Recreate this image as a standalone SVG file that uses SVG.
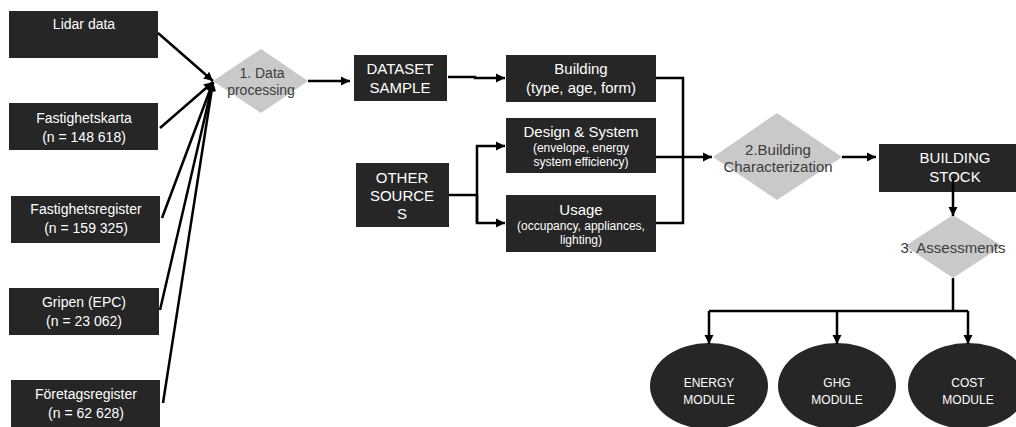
<svg xmlns="http://www.w3.org/2000/svg" width="1016" height="427" viewBox="0 0 1016 427">
  <style>
    .box { fill: #262626; }
    .dia { fill: #c9c9c9; }
    .mod { fill: #262626; }
    .t { font-family: "Liberation Sans", Arial, sans-serif; fill: #ffffff; text-anchor: middle; }
    .dt { font-family: "Liberation Sans", Arial, sans-serif; fill: #3c3c3c; text-anchor: middle; }
    .s15 { font-size: 15px; }
    .s14 { font-size: 14px; }
    .s12 { font-size: 12px; }
    .edge { fill: none; stroke: #000000; stroke-width: 2.5; }
    .arr { marker-end: url(#head); }
  </style>
  <defs>
    <marker id="head" markerWidth="10" markerHeight="10" refX="9" refY="5" orient="auto" markerUnits="userSpaceOnUse">
      <path d="M0,0.5 L9,5 L0,9.5 Z" fill="#000000"/>
    </marker>
  </defs>

  <rect width="1016" height="427" fill="#ffffff"/>

  <!-- data sources -->
  <g id="lidar">
    <rect class="box" x="9" y="11" width="149" height="47"/>
    <text class="t s14" x="84" y="29">Lidar data</text>
  </g>
  <g id="fastighetskarta">
    <rect class="box" x="9" y="103" width="149" height="47"/>
    <text class="t s14" x="84" y="123">Fastighetskarta</text>
    <text class="t s14" x="84" y="142">(n = 148 618)</text>
  </g>
  <g id="fastighetsregister">
    <rect class="box" x="11" y="196" width="149" height="47"/>
    <text class="t s14" x="86" y="214">Fastighetsregister</text>
    <text class="t s14" x="86" y="233">(n = 159 325)</text>
  </g>
  <g id="gripen">
    <rect class="box" x="9" y="288" width="150" height="47"/>
    <text class="t s14" x="84" y="307">Gripen (EPC)</text>
    <text class="t s14" x="84" y="326">(n = 23 062)</text>
  </g>
  <g id="foretagsregister">
    <rect class="box" x="11" y="380" width="149" height="50"/>
    <text class="t s14" x="86" y="399">Företagsregister</text>
    <text class="t s14" x="86" y="418">(n = 62 628)</text>
  </g>

  <!-- step 1 -->
  <g id="data-processing">
    <polygon class="dia" points="261,49 308,81 261,113 213,81"/>
    <text class="dt s14" x="262" y="78">1. Data</text>
    <text class="dt s14" x="261" y="95">processing</text>
  </g>

  <g id="dataset-sample">
    <rect class="box" x="354" y="55" width="93" height="46"/>
    <text class="t s15" x="400" y="74">DATASET</text>
    <text class="t s15" x="400" y="93">SAMPLE</text>
  </g>
  <g id="other-sources">
    <rect class="box" x="356" y="163" width="93" height="64"/>
    <text class="t s15" x="402" y="183">OTHER</text>
    <text class="t s15" x="402" y="201">SOURCE</text>
    <text class="t s15" x="402" y="219">S</text>
  </g>

  <g id="building">
    <rect class="box" x="506" y="55" width="150" height="47"/>
    <text class="t s15" x="581" y="74">Building</text>
    <text class="t s15" x="581" y="93">(type, age, form)</text>
  </g>
  <g id="design-system">
    <rect class="box" x="506" y="118" width="150" height="55"/>
    <text class="t s15" x="581" y="137">Design &amp; System</text>
    <text class="t s12" x="581" y="152">(envelope, energy</text>
    <text class="t s12" x="581" y="166">system efficiency)</text>
  </g>
  <g id="usage">
    <rect class="box" x="506" y="195" width="150" height="57"/>
    <text class="t s15" x="581" y="215">Usage</text>
    <text class="t s12" x="581" y="230">(occupancy, appliances,</text>
    <text class="t s12" x="581" y="244">lighting)</text>
  </g>

  <!-- step 2 -->
  <g id="building-characterization">
    <polygon class="dia" points="777,113 842,157 777,200 713,157"/>
    <text class="dt s15" x="778" y="155">2.Building</text>
    <text class="dt s15" x="778" y="172">Characterization</text>
  </g>

  <g id="building-stock">
    <rect class="box" x="879" y="144" width="140" height="48"/>
    <text class="t s15" x="955" y="163">BUILDING</text>
    <text class="t s15" x="955" y="182">STOCK</text>
  </g>

  <!-- step 3 -->
  <g id="assessments">
    <polygon class="dia" points="953,215 1002,246 953,278 905,246"/>
    <text class="dt s15" x="953" y="253">3. Assessments</text>
  </g>

  <g id="energy-module">
    <ellipse class="mod" cx="709" cy="386" rx="59" ry="43"/>
    <text class="t s12" x="709" y="387">ENERGY</text>
    <text class="t s12" x="709" y="404">MODULE</text>
  </g>
  <g id="ghg-module">
    <ellipse class="mod" cx="837" cy="386" rx="59" ry="43"/>
    <text class="t s12" x="837" y="387">GHG</text>
    <text class="t s12" x="837" y="404">MODULE</text>
  </g>
  <g id="cost-module">
    <ellipse class="mod" cx="968" cy="386" rx="60" ry="43"/>
    <text class="t s12" x="968" y="387">COST</text>
    <text class="t s12" x="968" y="404">MODULE</text>
  </g>

  <!-- connectors -->
  <g id="connectors">
    <line class="edge arr" x1="158" y1="33" x2="213" y2="81"/>
    <line class="edge arr" x1="160" y1="128" x2="213" y2="82"/>
    <line class="edge arr" x1="162" y1="218" x2="213" y2="82"/>
    <line class="edge arr" x1="160" y1="310" x2="213" y2="82"/>
    <line class="edge arr" x1="163" y1="403" x2="213" y2="82"/>

    <line class="edge arr" x1="308" y1="81" x2="350" y2="81"/>
    <polyline class="edge arr" points="448,77 475,77 475,78 505,78"/>

    <polyline class="edge" points="449,195 477,195"/>
    <polyline class="edge arr" points="477,223 477,146 505,146"/>
    <polyline class="edge arr" points="477,195 477,223 505,223"/>

    <polyline class="edge" points="656,78 683,78 683,223 656,223"/>
    <line class="edge arr" x1="656" y1="157" x2="712" y2="157"/>

    <line class="edge arr" x1="842" y1="157" x2="876" y2="157"/>
    <line class="edge arr" x1="953" y1="178" x2="953" y2="216"/>

    <line class="edge" x1="953" y1="278" x2="953" y2="311"/>
    <polyline class="edge arr" points="709,311 709,344"/>
    <polyline class="edge" points="709,311 968,311"/>
    <line class="edge arr" x1="837" y1="311" x2="837" y2="344"/>
    <line class="edge arr" x1="968" y1="311" x2="968" y2="344"/>
  </g>
</svg>
